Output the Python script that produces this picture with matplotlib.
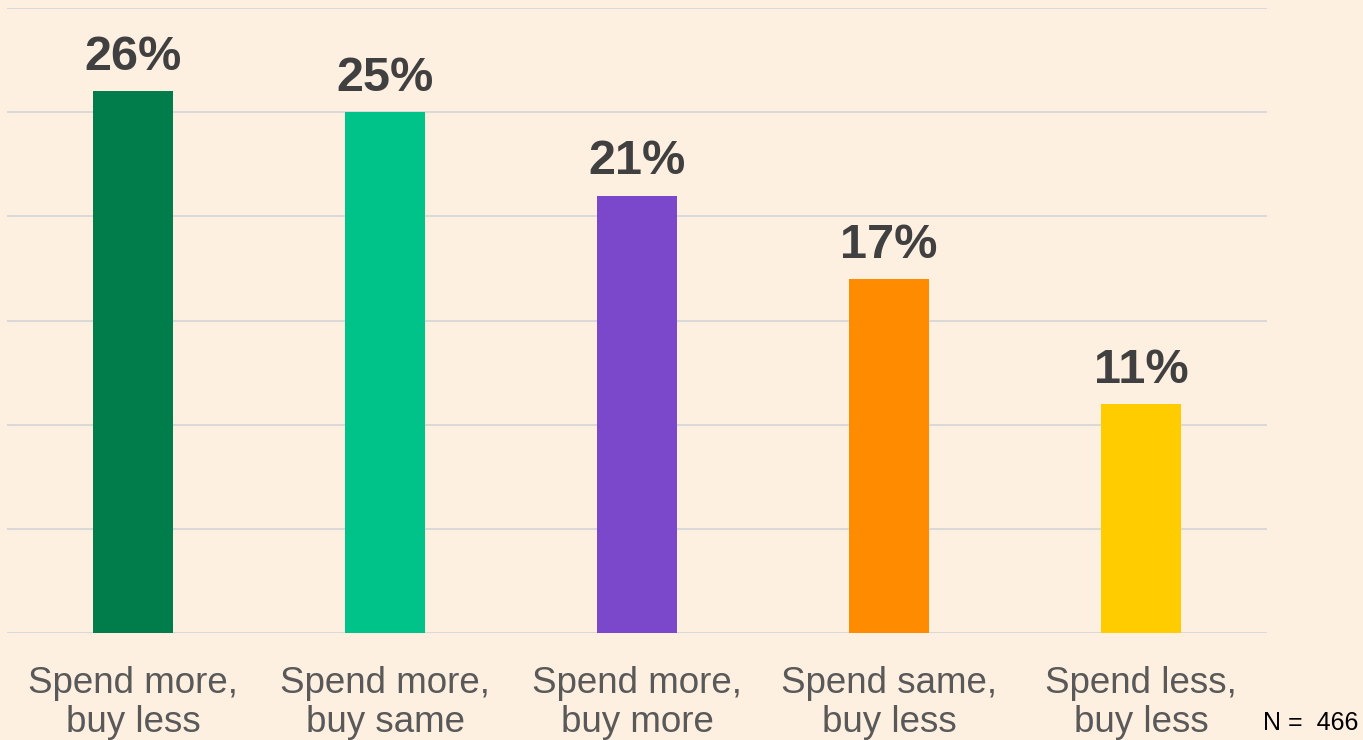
import matplotlib.pyplot as plt

categories = ["Spend more,\nbuy less", "Spend more,\nbuy same", "Spend more,\nbuy more",
              "Spend same,\nbuy less", "Spend less,\nbuy less"]
shares = [26, 25, 21, 17, 11]
colors = ["#007D4A", "#00C389", "#7B48CC", "#FF8C00", "#FFCC00"]
sample_size = 466

bg = "#FEF0E1"
plt.rcParams['font.family'] = ['Liberation Sans', 'DejaVu Sans']

fig = plt.figure(figsize=(13.63, 7.40), dpi=100, facecolor=bg)
ax = fig.add_axes([7 / 1363, 107 / 740, 1260 / 1363, 625 / 740])
ax.set_facecolor(bg)

x = range(len(categories))
bars = ax.bar(x, shares, width=0.317, color=colors, zorder=3)

for rect, v in zip(bars, shares):
    ax.annotate(f"{v}%", (rect.get_x() + rect.get_width() / 2, v),
                xytext=(0, 8), textcoords="offset points",
                ha="center", va="bottom", fontsize=35, fontweight="bold",
                color="#404040")

ax.set_xlim(-0.5, len(categories) - 0.5)
ax.set_ylim(0, 30)
ax.set_yticks(range(0, 31, 5))
ax.yaxis.grid(True, color="#D9D9D9", linewidth=1.5, zorder=0)
ax.tick_params(axis="y", left=False, labelleft=False)
ax.tick_params(axis="x", length=0, pad=24)
ax.set_xticks(list(x))
ax.set_xticklabels(categories, fontsize=26.5, color="#595959", linespacing=1.12)
for s in ax.spines.values():
    s.set_visible(False)

fig.text(1311 / 1363, 1 - 723 / 740, f"N =  {sample_size}", ha="center", va="center",
         fontsize=18, color="black")

fig.savefig("out.png", dpi=100, facecolor=bg)
